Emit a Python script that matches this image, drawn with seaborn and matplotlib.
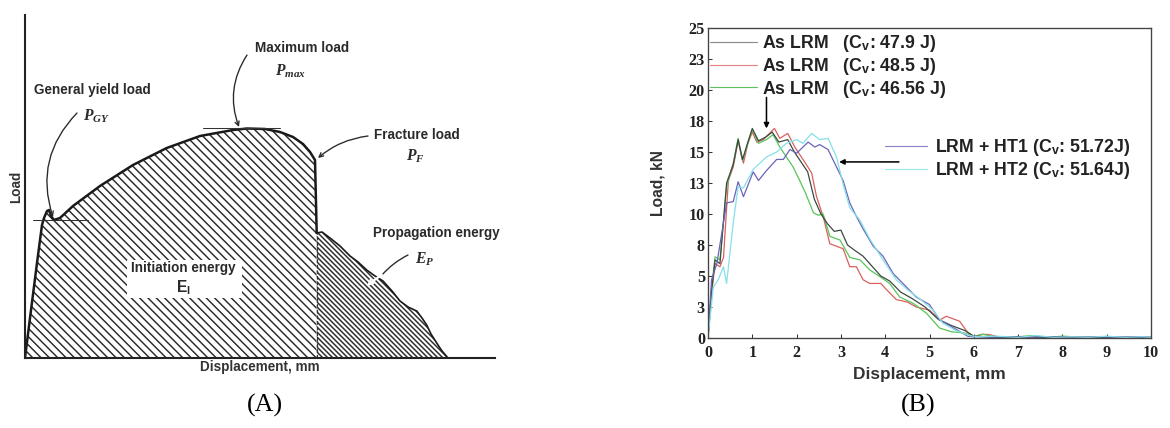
import numpy as np
import pandas as pd
import matplotlib
matplotlib.use("Agg")
import matplotlib.pyplot as plt
from matplotlib.patches import Rectangle
from matplotlib.lines import Line2D
import seaborn as sns

sns.set_style("ticks")
plt.rcParams["font.family"] = ["Liberation Sans", "DejaVu Sans"]
plt.rcParams["mathtext.fontset"] = "custom"
plt.rcParams["mathtext.rm"] = "Liberation Sans:bold"
plt.rcParams["mathtext.bf"] = "Liberation Sans:bold"
plt.rcParams["mathtext.it"] = "Liberation Serif:italic:bold"
plt.rcParams["hatch.linewidth"] = 1.4

# ---------------- Panel A: schematic (arbitrary units) ----------------
init_x = [0, 5, 12, 17, 19, 22, 24, 26, 29, 35, 48, 75, 108, 141.7, 175, 208, 222, 240,
          255, 268, 278, 285, 290, 291.7, 291.7]
init_y = [0, 40, 95, 133, 140, 147, 148, 142, 138, 140, 152, 172, 193, 210, 222, 228,
          229.5, 229, 226, 221, 214, 206, 198, 125, 0]
prop_x = [291.7, 291.7, 297, 305, 315, 325, 333, 341.7, 350, 358, 367, 375, 383, 391.7,
          397, 401.7, 406, 411.7, 417, 423]
prop_y = [0, 125, 126, 120, 112, 102, 96, 88, 82, 77, 67, 57, 51, 47, 40, 33, 24, 15, 7, 0]

# ---------------- Panel B: load-displacement curves ----------------
x_lrm1 = [0, 0.08, 0.16, 0.27, 0.42, 0.57, 0.68, 0.78, 0.9, 1.0, 1.14, 1.3, 1.45, 1.6, 1.8,
          1.95, 2.1, 2.25, 2.4, 2.55, 2.7, 2.85, 3.0, 3.15, 3.3, 3.5, 3.7, 3.9, 4.1, 4.35,
          4.6, 4.9, 5.2, 5.5, 5.8, 6.0, 6.3, 6.6, 7.0, 7.5, 8.0, 8.5, 9.0, 9.5, 10]
y_lrm1 = [0, 3.8, 6.3, 6.0, 12.5, 14.0, 16.0, 14.4, 15.8, 16.9, 15.9, 16.2, 16.6, 15.8, 16.0,
          15.0, 14.2, 13.4, 11.2, 10.0, 9.2, 8.6, 8.7, 7.5, 7.1, 6.6, 5.8, 5.0, 4.6, 3.7,
          3.2, 2.5, 1.5, 1.0, 0.6, 0.15, 0.1, 0.05, 0.1, 0.05, 0.1, 0.05, 0.05, 0.05, 0.05]

x_lrm2 = [0, 0.08, 0.16, 0.27, 0.35, 0.46, 0.57, 0.68, 0.76, 0.8, 0.9, 1.0, 1.1, 1.25, 1.36,
          1.5, 1.62, 1.8, 1.96, 2.07, 2.2, 2.34, 2.45, 2.6, 2.75, 2.9, 3.05, 3.2, 3.35, 3.5,
          3.65, 3.9, 4.03, 4.25, 4.5, 4.7, 5.0, 5.23, 5.38, 5.68, 5.87, 6.0, 6.2, 6.36, 6.6,
          7.0, 7.5, 8.0, 8.5, 9.0, 9.5, 10]
y_lrm2 = [0, 3.5, 6.0, 5.75, 6.5, 12.7, 13.8, 15.9, 14.6, 14.1, 15.7, 16.6, 15.8, 16.0, 16.4,
          16.9, 16.1, 16.5, 15.4, 14.8, 14.1, 13.3, 11.4, 9.8, 7.6, 7.4, 7.2, 5.75, 5.75, 4.7,
          4.4, 4.4, 3.9, 3.1, 2.9, 2.5, 2.25, 1.45, 1.75, 1.35, 0.4, 0.13, 0.3, 0.27, 0.05,
          0.1, 0.05, 0.1, 0.05, 0.08, 0.05, 0.05]

x_lrm3 = [0, 0.08, 0.16, 0.27, 0.42, 0.57, 0.68, 0.78, 0.9, 1.0, 1.14, 1.32, 1.47, 1.62, 1.77,
          1.92, 2.07, 2.2, 2.38, 2.49, 2.6, 2.75, 2.98, 3.2, 3.43, 3.65, 3.9, 4.1, 4.33, 4.63,
          4.93, 5.23, 5.5, 5.8, 6.0, 6.2, 6.4, 6.7, 7.0, 7.3, 7.7, 8.0, 8.5, 9.0, 9.5, 10]
y_lrm3 = [0, 4.0, 6.55, 6.3, 12.2, 14.1, 16.1, 14.3, 15.7, 16.8, 15.7, 16.0, 16.4, 15.4, 14.6,
          13.8, 12.7, 11.7, 10.1, 9.9, 10.0, 8.2, 7.9, 6.5, 6.3, 5.5, 4.9, 4.4, 3.3, 2.8,
          2.0, 0.8, 0.5, 0.4, 0.1, 0.3, 0.15, 0.05, 0.1, 0.2, 0.05, 0.15, 0.05, 0.05, 0.05, 0.05]

x_ht1 = [0, 0.08, 0.2, 0.3, 0.42, 0.57, 0.68, 0.8, 1.02, 1.14, 1.32, 1.55, 1.7, 1.85, 2.0,
         2.26, 2.41, 2.52, 2.71, 2.9, 3.05, 3.2, 3.35, 3.5, 3.73, 3.95, 4.18, 4.4, 4.7, 5.0,
         5.23, 5.6, 5.87, 6.1, 6.4, 6.8, 7.2, 7.6, 8.0, 8.4, 8.8, 9.2, 9.6, 10]
y_ht1 = [0, 4.7, 6.0, 8.2, 10.9, 11.0, 12.6, 11.4, 13.4, 12.7, 13.5, 14.4, 14.4, 15.2, 14.9,
         15.8, 15.4, 15.6, 15.2, 13.8, 12.7, 10.9, 9.8, 8.8, 7.4, 6.6, 5.2, 4.4, 3.3, 2.7,
         1.45, 0.7, 0.13, 0.1, 0.05, 0.1, 0.05, 0.1, 0.05, 0.05, 0.1, 0.05, 0.1, 0.05]

x_ht2 = [0, 0.12, 0.23, 0.35, 0.42, 0.57, 0.68, 0.8, 1.02, 1.32, 1.55, 1.77, 2.0, 2.14, 2.34,
         2.52, 2.71, 2.9, 3.05, 3.2, 3.43, 3.65, 3.95, 4.25, 4.5, 4.8, 5.08, 5.3, 5.6, 5.9,
         6.1, 6.5, 7.0, 7.4, 7.8, 8.2, 8.6, 9.0, 9.4, 9.8, 10]
y_ht2 = [0, 4.1, 4.7, 5.75, 4.4, 9.3, 12.2, 12.1, 13.6, 14.6, 15.0, 15.7, 16.0, 15.7, 16.5,
         16.0, 16.1, 14.6, 12.4, 10.5, 9.5, 8.0, 6.3, 4.7, 3.9, 3.1, 2.25, 1.2, 0.6, 0.2,
         0.1, 0.15, 0.05, 0.2, 0.05, 0.1, 0.05, 0.15, 0.05, 0.1, 0.05]

series_names = ["As LRM   (C$_\\mathrm{v}$: 47.9 J)",
                "As LRM   (C$_\\mathrm{v}$: 48.5 J)",
                "As LRM   (C$_\\mathrm{v}$: 46.56 J)",
                "LRM + HT1 (C$_\\mathrm{v}$: 51.72J)",
                "LRM + HT2 (C$_\\mathrm{v}$: 51.64J)"]
plot_colors = ["#3c4a44", "#d9605e", "#58c458", "#6a64b8", "#86e0ea"]
legend_colors = ["#8a8a8a", "#e48080", "#60c060", "#8a84c4", "#9ee6ee"]
ytick_vals = [0, 2.5, 5, 7.5, 10, 12.5, 15, 17.5, 20, 22.5, 25]
ytick_labels = ["0", "3", "5", "8", "10", "13", "15", "18", "20", "23", "25"]
xtick_vals = list(range(0, 11))

W, H, DPI = 1170, 428, 75
fig = plt.figure(figsize=(W / DPI, H / DPI), dpi=DPI)

# ================= Panel A =================
axA = fig.add_axes([25 / W, 70 / H, 470 / W, 343 / H])
axA.set_xlim(0, 470)
axA.set_ylim(0, 343)
axA.fill(init_x, init_y, facecolor="white", edgecolor="#2a2a2a", hatch="\\\\\\", linewidth=0)
axA.fill(prop_x, prop_y, facecolor="white", edgecolor="#2a2a2a", hatch="\\\\\\\\\\", linewidth=0)
axA.add_patch(Rectangle((102, 60), 115, 38, facecolor="white", edgecolor="none", zorder=3))
sns.lineplot(x=init_x[:-1], y=init_y[:-1], ax=axA, sort=False, estimator=None,
             color="#1a1a1a", linewidth=2.4)
sns.lineplot(x=prop_x[1:], y=prop_y[1:], ax=axA, sort=False, estimator=None,
             color="#1a1a1a", linewidth=1.6)
axA.plot([291.7, 291.7], [0, 125], color="#333333", linewidth=1.2, linestyle=(0, (3, 1.5)))
axA.plot([8, 63], [138.3, 138.3], color="#333333", linewidth=1.0)
axA.plot([178, 255], [230.5, 230.5], color="#333333", linewidth=1.0)
for s in ["top", "right"]:
    axA.spines[s].set_visible(False)
for s in ["left", "bottom"]:
    axA.spines[s].set_color("#222222")
    axA.spines[s].set_linewidth(2)
axA.set_xticks([])
axA.set_yticks([])
axA.set_ylabel("Load", fontsize=13, fontweight="bold", color="#333333", labelpad=2)
axA.set_xlabel("Displacement, mm", fontsize=13, fontweight="bold", color="#333333", labelpad=2)

tkw = dict(fontsize=13, fontweight="bold", color="#2a2a2a", ha="center", va="center")
mkw = dict(fontsize=15, color="#2a2a2a", ha="center", va="center")
axA.text(277, 310, "Maximum load", **tkw)
axA.text(265, 287, "$P_{max}$", **mkw)
axA.text(67, 268, "General yield load", **tkw)
axA.text(72, 242, "$P_{GY}$", **mkw)
axA.text(392, 223, "Fracture load", **tkw)
axA.text(390, 202, "$P_{F}$", **mkw)
axA.text(411, 125, "Propagation energy", **tkw)
axA.text(400, 99, "$E_{P}$", **mkw)
axA.text(158, 90, "Initiation energy", zorder=4, **tkw)
axA.text(158, 70, "E$_\\mathrm{I}$", zorder=4, fontsize=15, fontweight="bold",
         color="#2a2a2a", ha="center", va="center")

akw = dict(arrowstyle="->", color="#2a2a2a", lw=1.3, shrinkA=0, shrinkB=0)
axA.annotate("", xy=(214, 231), xytext=(222, 303),
             arrowprops=dict(connectionstyle="arc3,rad=0.25", **akw))
axA.annotate("", xy=(28, 141), xytext=(52, 245),
             arrowprops=dict(connectionstyle="arc3,rad=0.3", **akw))
axA.annotate("", xy=(293, 200), xytext=(343, 222),
             arrowprops=dict(connectionstyle="arc3,rad=0.15", **akw))
axA.annotate("", xy=(357, 83), xytext=(383, 103),
             arrowprops=dict(connectionstyle="arc3,rad=0.1", arrowstyle="-", color="#2a2a2a",
                             lw=1.3, shrinkA=0, shrinkB=0))
axA.annotate("", xy=(342, 72), xytext=(357, 83),
             arrowprops=dict(connectionstyle="arc3,rad=0.05", arrowstyle="->", color="white",
                             lw=2.2, shrinkA=0, shrinkB=0), zorder=5)

# ================= Panel B =================
axB = fig.add_axes([708 / W, 90 / H, 443 / W, 310 / H])
xs = [x_lrm1, x_lrm2, x_lrm3, x_ht1, x_ht2]
ys = [y_lrm1, y_lrm2, y_lrm3, y_ht1, y_ht2]
for i in [1, 2, 0, 3, 4]:
    sns.lineplot(x=xs[i], y=ys[i], ax=axB, sort=False, estimator=None,
                 color=plot_colors[i], linewidth=1.2)
axB.set_xlim(0, 10)
axB.set_ylim(0, 25)
axB.set_xticks(xtick_vals)
axB.set_xticklabels([str(v) for v in xtick_vals])
axB.set_yticks(ytick_vals)
axB.set_yticklabels(ytick_labels)
for lab in axB.get_xticklabels() + axB.get_yticklabels():
    lab.set_fontfamily("Liberation Serif")
    lab.set_fontweight("bold")
    lab.set_fontsize(15.5)
    lab.set_color("#222222")
axB.tick_params(direction="in", length=4, width=1, color="#333333", pad=3)
axB.tick_params(axis="x", pad=7)
for s in axB.spines.values():
    s.set_color("#444444")
    s.set_linewidth(1.3)
axB.set_xlabel("Displacement, mm", fontsize=16.5, fontweight="bold", color="#333333", labelpad=5)
axB.set_ylabel("Load, kN", fontsize=15, fontweight="bold", color="#333333", labelpad=22)

lprop = {"family": "Liberation Sans", "weight": "bold", "size": 17}
h1 = [Line2D([], [], color=legend_colors[i], lw=1.1) for i in range(3)]
leg1 = axB.legend(h1, series_names[:3], loc="upper left",
                  bbox_to_anchor=(710 / W, 1 - 33 / H), bbox_transform=fig.transFigure,
                  frameon=False, borderpad=0, borderaxespad=0, handlelength=2.65,
                  handletextpad=0.3, labelspacing=0.1, prop=lprop)
for t in leg1.get_texts():
    t.set_color("#222222")
axB.add_artist(leg1)
h2 = [Line2D([], [], color=legend_colors[i], lw=1.1) for i in range(3, 5)]
leg2 = axB.legend(h2, series_names[3:], loc="upper left",
                  bbox_to_anchor=(885 / W, 1 - 137 / H), bbox_transform=fig.transFigure,
                  frameon=False, borderpad=0, borderaxespad=0, handlelength=2.37,
                  handletextpad=0.45, labelspacing=0.1, prop=lprop)
for t in leg2.get_texts():
    t.set_color("#222222")

axB.annotate("", xy=(1.32, 16.9), xytext=(1.32, 19.4),
             arrowprops=dict(arrowstyle="-|>", color="black", lw=1.5, mutation_scale=10,
                             shrinkA=0, shrinkB=0))
axB.annotate("", xy=(2.96, 14.2), xytext=(4.31, 14.2),
             arrowprops=dict(arrowstyle="-|>", color="black", lw=1.5, mutation_scale=10,
                             shrinkA=0, shrinkB=0))

fig.text(265 / W, 1 - 405 / H, "(A)", fontfamily="Liberation Serif", fontsize=25,
         ha="center", va="center", color="black")
fig.text(918 / W, 1 - 405 / H, "(B)", fontfamily="Liberation Serif", fontsize=25,
         ha="center", va="center", color="black")

fig.savefig("out.png", dpi=DPI, facecolor="white")
